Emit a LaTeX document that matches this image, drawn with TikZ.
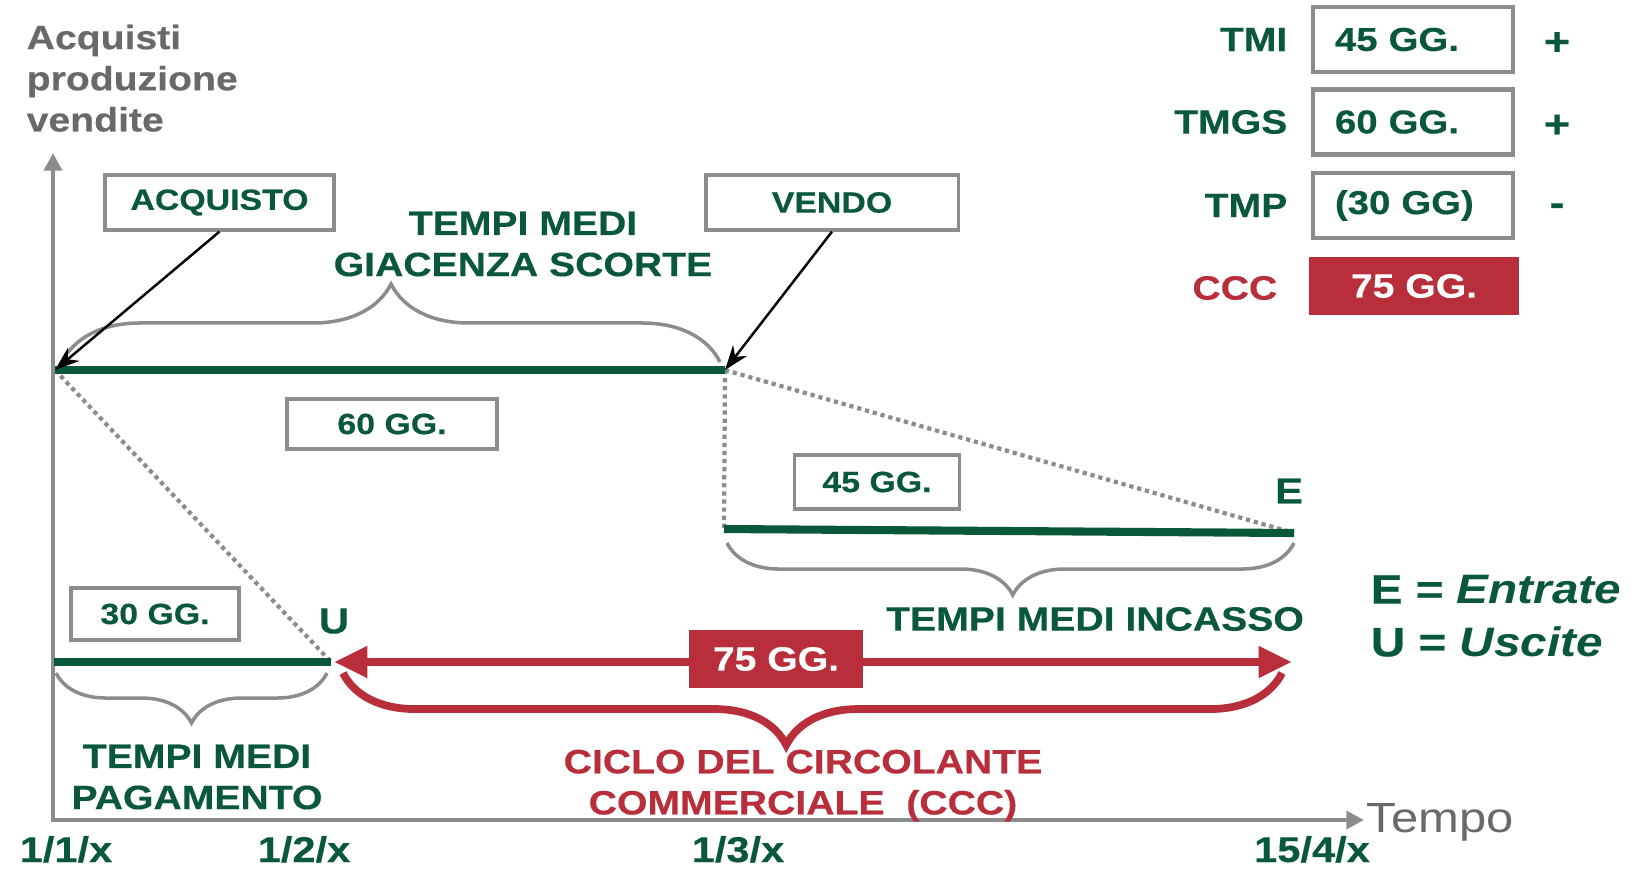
\documentclass[tikz,border=0pt]{standalone}
\usepackage{fontspec}
\setmainfont{Liberation Sans}[FakeStretch=1.16,BoldFeatures={FakeBold=0.4}]
\usetikzlibrary{arrows.meta,decorations.pathreplacing}
\definecolor{verde}{RGB}{10,88,58}
\definecolor{rosso}{RGB}{184,46,58}
\definecolor{grigio}{RGB}{140,140,140}
\definecolor{grigioscuro}{RGB}{105,105,105}
\tikzset{
  scritta/.style={font=\fontsize{9.6}{11.7}\selectfont\bfseries,text=verde,inner sep=0pt,align=center},
  casella/.style={draw=grigio,line width=0.9pt,fill=white,inner sep=0pt,font=\fontsize{8.3}{10}\selectfont\bfseries,text=verde},
  riquadro/.style={draw=grigio,line width=1.2pt,fill=white,inner xsep=0.22cm,inner ysep=0pt,text width=1.56cm,align=left,minimum height=0.65cm,font=\fontsize{9.4}{11}\selectfont\bfseries,text=verde},
  rossobox/.style={fill=rosso,text=white,inner sep=0pt,font=\fontsize{9.6}{11}\selectfont\bfseries},
  periodo/.style={verde,line width=2.3pt},
  tratteggio/.style={grigio,line width=1.2pt,dash pattern=on 1.2pt off 1.1pt},
  graffa/.style={grigio,line width=1pt,decorate},
  data/.style={font=\fontsize{10.2}{12}\selectfont\bfseries,text=verde,inner sep=0pt,anchor=base},
  lettera/.style={font=\fontsize{10.3}{12}\selectfont\bfseries,text=verde,inner sep=0pt},
}
\begin{document}
\begin{tikzpicture}[x=0.01cm,y=-0.01cm]
\useasboundingbox (0,0) rectangle (1646,872);
\coordinate (O) at (53,822);
\coordinate (Ytop) at (53,153);
\coordinate (Xend) at (1364,820);
\draw[grigio,line width=1.2pt,-{Triangle[length=5pt,width=5pt]}] (O) -- (Ytop);
\draw[grigio,line width=1.2pt,-{Triangle[length=5pt,width=5pt]}] (52,820) -- (Xend);
\node[anchor=base west,font=\fontsize{12}{14}\selectfont,text=grigioscuro,inner sep=0pt] (tempo) at (1366,832) {Tempo};
\node[anchor=north west,font=\fontsize{9.6}{11.7}\selectfont\bfseries,text=grigioscuro,inner sep=0pt,align=left] (asse) at (26,24) {Acquisti\\produzione\\vendite};
\foreach \x/\d in {66/{1/1/x},304/{1/2/x},738/{1/3/x},1312/{15/4/x}}
  \node[data] (d\x) at (\x,862) {\d};
\coordinate (A) at (55,370);
\coordinate (V) at (725,370);
\coordinate (I) at (724,529);
\coordinate (E) at (1294,533);
\coordinate (P) at (54,662);
\coordinate (U) at (331,662);
\coordinate (C0) at (334,662);
\coordinate (C1) at (1292,662);
\draw[tratteggio] (A) -- (U);
\draw[tratteggio] (V) -- (I);
\draw[tratteggio] (V) -- (E);
\draw[periodo] (A) -- (V);
\draw[periodo] (I) -- (E);
\draw[periodo] (P) -- (U);
\draw[graffa,decoration={brace,amplitude=0.78cm}] (62,362) -- (720,362);
\draw[graffa,decoration={brace,amplitude=0.52cm,mirror,aspect=0.504}] (727,543) -- (1294,543);
\draw[graffa,decoration={brace,amplitude=0.5cm,mirror}] (56,673) -- (327,673);
\draw[rosso,line width=2.2pt,decorate,decoration={brace,amplitude=0.72cm,mirror,aspect=0.472}] (343,673) -- (1282,673);
\draw[rosso,line width=2.3pt,{Triangle[length=9.5pt,width=8.5pt]}-{Triangle[length=9.5pt,width=8.5pt]}] (C0) -- (C1);
\node[rossobox,minimum width=1.73cm,minimum height=0.58cm] (ccc) at (776,659) {75 GG.};
\node[casella,minimum width=2.29cm,minimum height=0.55cm] (acq) at (219.5,202.5) {ACQUISTO};
\node[casella,minimum width=2.52cm,minimum height=0.55cm] (ven) at (832,202.5) {VENDO};
\node[casella,minimum width=2.1cm,minimum height=0.5cm] (g60) at (392,424) {60 GG.};
\node[casella,minimum width=1.65cm,minimum height=0.54cm] (g45) at (877,482) {45 GG.};
\node[casella,minimum width=1.68cm,minimum height=0.52cm] (g30) at (155,614) {30 GG.};
\draw[-{Stealth[length=7pt,width=5pt]},line width=0.7pt] (acq.south) -- (A);
\draw[-{Stealth[length=7pt,width=5pt]},line width=0.7pt] (ven.south) -- (V);
\node[scritta,anchor=north] (tmgs) at (523,211) {TEMPI MEDI\\GIACENZA SCORTE};
\node[scritta] (tmi) at (1095,619) {TEMPI MEDI INCASSO};
\node[scritta,anchor=north] (tmp) at (197,744) {TEMPI MEDI\\PAGAMENTO};
\node[scritta,anchor=north,text=rosso] (ciclo) at (803,749) {CICLO DEL CIRCOLANTE\\COMMERCIALE\ \ (CCC)};
\node[lettera] (lE) at (1289,491) {E};
\node[lettera] (lU) at (334,621) {U};
\node[anchor=west,font=\fontsize{11.7}{15}\selectfont\bfseries,text=verde,inner sep=0pt,align=left] (leg) at (1370,616) {E = \textit{Entrate}\\U = \textit{Uscite}};
\foreach \y/\t/\v/\s in {39.5/TMI/45 GG./+,122/TMGS/60 GG./+,205.5/TMP/(30 GG)/-}{
  \node[scritta,anchor=east] (l\t) at (1288,\y) {\t};
  \node[riquadro] (b\t) at (1413,\y) {\v};
  \node[scritta,font=\fontsize{11}{12}\selectfont\bfseries] (s\t) at (1557,\y+4) {\s};
}
\node[scritta,anchor=east,text=rosso] (lCCC) at (1278,288) {CCC};
\node[rossobox,minimum width=2.1cm,minimum height=0.58cm] (bCCC) at (1414,286) {75 GG.};
\end{tikzpicture}
\end{document}
